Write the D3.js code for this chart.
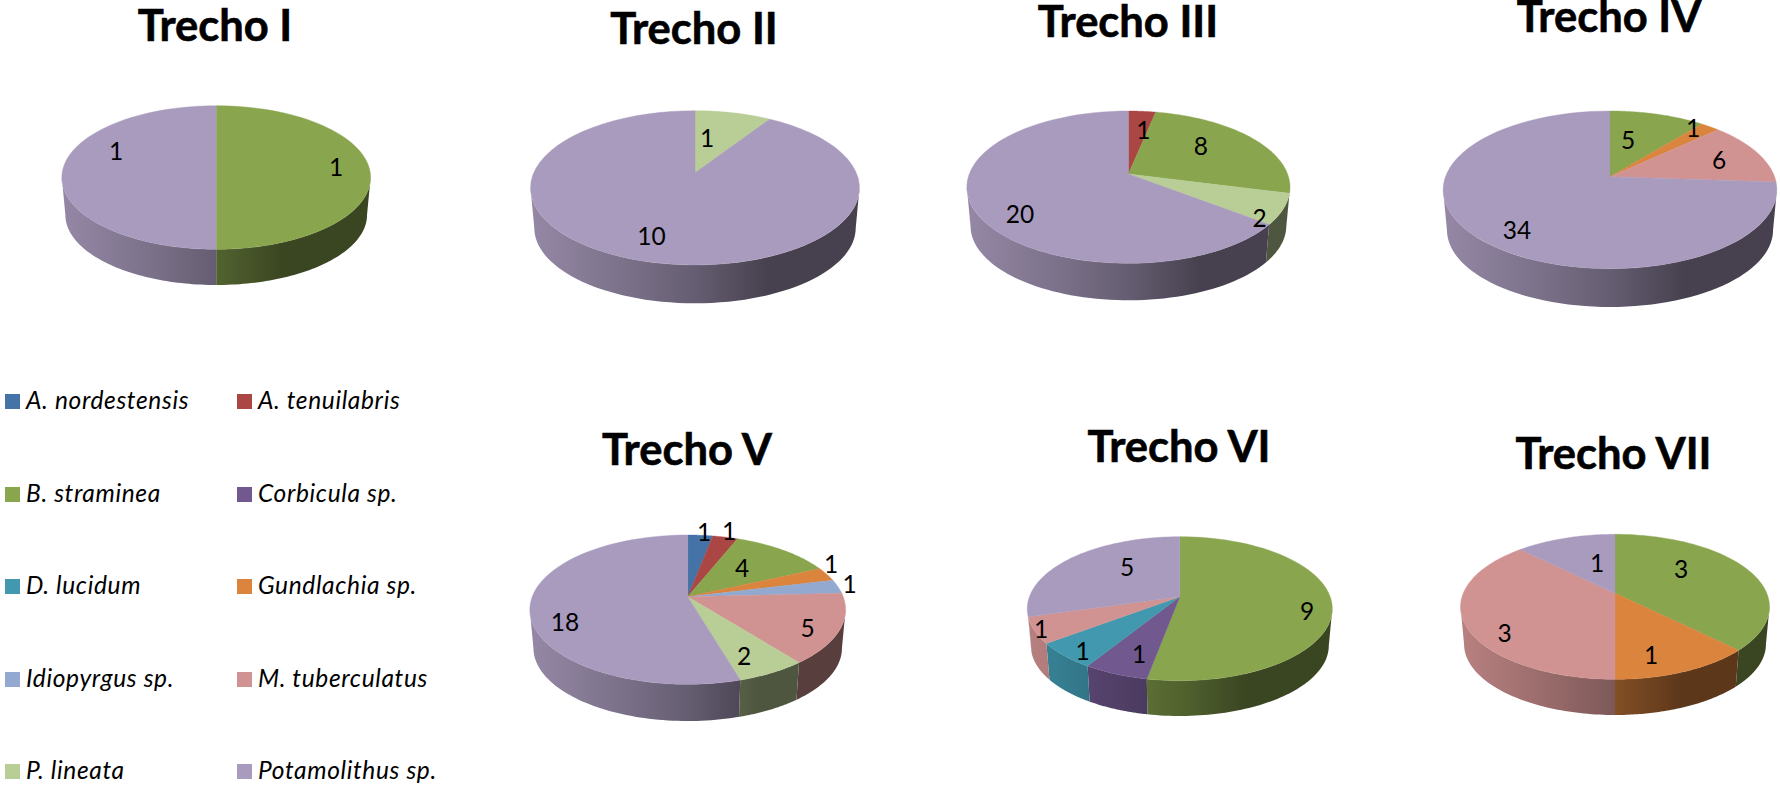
<!DOCTYPE html>
<html>
<head>
<meta charset="utf-8">
<script src="https://cdn.jsdelivr.net/npm/d3@7"></script>
<style>
  html, body { margin: 0; padding: 0; background: #fff; }
  svg { display: block; }
  text { font-family: Lato, "Open Sans", sans-serif; fill: #000; }
</style>
</head>
<body>
<svg id="chart" width="1780" height="786"></svg>
<script>
// Gastropod and bivalve counts per river stretch.
const species = ["A. nordestensis", "A. tenuilabris", "B. straminea", "Corbicula sp.", "D. lucidum",
                 "Gundlachia sp.", "Idiopyrgus sp.", "M. tuberculatus", "P. lineata", "Potamolithus sp."];
const palette = ["#4572a7", "#aa4643", "#89a54e", "#71588f", "#4198af",
                 "#db843d", "#93a9cf", "#d19392", "#b9cd96", "#a99bbd"];

const stretches = ["Trecho I", "Trecho II", "Trecho III", "Trecho IV", "Trecho V", "Trecho VI", "Trecho VII"];
const countsI   = [0, 0, 1, 0, 0, 0, 0, 0, 0, 1];
const countsII  = [0, 0, 0, 0, 0, 0, 0, 0, 1, 10];
const countsIII = [0, 1, 8, 0, 0, 0, 0, 0, 2, 20];
const countsIV  = [0, 0, 5, 0, 0, 1, 0, 6, 0, 34];
const countsV   = [1, 1, 4, 0, 0, 1, 1, 5, 2, 18];
const countsVI  = [0, 0, 9, 1, 1, 0, 0, 1, 0, 5];
const countsVII = [0, 0, 3, 0, 0, 1, 0, 3, 0, 1];
const counts = [countsI, countsII, countsIII, countsIV, countsV, countsVI, countsVII];

// Frame of each perspective disc: hub, horizontal half-width, top and front of the rim, wall height.
const discs = [
  {hx: 216.2, hy: 165.0, rx: 154.4, top: 105.7, front: 249.3, wall: 35.7, tx: 215,  ty: 40.7},
  {hx: 695.0, hy: 172.7, rx: 164.5, top: 110.7, front: 265.0, wall: 38.3, tx: 694,  ty: 44.3},
  {hx: 1128.4, hy: 174.0, rx: 161.6, top: 111.0, front: 263.3, wall: 37.0, tx: 1128, ty: 37.3},
  {hx: 1610.0, hy: 176.7, rx: 166.9, top: 111.0, front: 268.7, wall: 38.3, tx: 1609, ty: 31.7},
  {hx: 687.7, hy: 596.7, rx: 157.9, top: 535.0, front: 684.3, wall: 36.7, tx: 687,  ty: 465},
  {hx: 1179.8, hy: 596.7, rx: 152.5, top: 536.7, front: 680.7, wall: 35.3, tx: 1179, ty: 462.3},
  {hx: 1615.0, hy: 593.3, rx: 154.5, top: 534.3, front: 679.3, wall: 35.7, tx: 1613.5, ty: 469}
];

// Value label offsets from each disc's hub, listed in slice order.
const labelOffsets = [
  [[120, 1], [-100, -15]],
  [[12, -35], [-43.5, 63]],
  [[15, -45], [72.4, -29], [131.3, 43], [-108.4, 39]],
  [[18, -37], [83, -49], [109, -17], [-93, 53]],
  [[16.3, -65], [41.3, -66], [54.3, -29], [143.3, -33], [161.9, -13], [120, 31], [56.3, 59], [-122.7, 25]],
  [[127.2, 14], [-40.8, 57], [-97.2, 54], [-138.8, 32], [-52.8, -30]],
  [[66, -25], [36, 61], [-110.5, 39], [-18, -31]]
];

const legendRows = [394, 487, 579, 672, 764];
const legendColumns = [5, 237];
const swatchSize = 15;

const svg = d3.select("#chart");
const defs = svg.append("defs");

// Slices run clockwise from twelve o'clock, in legend order, skipping absent species.
const pieLayout = d3.pie().sort(null).value(d => d.count);
const rimPath = d3.line();

// Shade applied across the wall from left to right, a multiple of the slice colour.
const wallStops = [[0, 0.88], [0.3, 0.72], [0.5, 0.60], [0.72, 0.42], [1, 0.42]];

function projector(disc) {
  const up = disc.hy - disc.top, down = disc.front - disc.hy;
  const ratio = down / up;
  const k = (ratio - 1) / (ratio + 1);
  const s = up * (1 + k);
  const r = disc.rx * Math.sqrt(1 - k * k);
  const flat = theta => {
    const d = 1 + k * Math.cos(theta);
    return [r * Math.sin(theta) / d, -s * Math.cos(theta) / d];
  };
  const floorScale = 0.977;
  const floorHub = disc.front + disc.wall - floorScale * down;
  return {
    k,
    upper: theta => { const p = flat(theta); return [disc.hx + p[0], disc.hy + p[1]]; },
    lower: theta => { const p = flat(theta); return [disc.hx + floorScale * p[0], floorHub + floorScale * p[1]]; }
  };
}

const sweep = (a, b) => d3.range(0, 65).map(i => a + (b - a) * i / 64);

function wallGradient(id, disc, color) {
  const grad = defs.append("linearGradient").attr("id", id)
    .attr("gradientUnits", "userSpaceOnUse")
    .attr("x1", disc.hx - disc.rx).attr("x2", disc.hx + disc.rx)
    .attr("y1", 0).attr("y2", 0);
  const base = d3.rgb(color);
  wallStops.forEach(([t, f]) => {
    grad.append("stop").attr("offset", t)
      .attr("stop-color", d3.rgb(base.r * f, base.g * f, base.b * f).formatHex());
  });
  return `url(#${id})`;
}

discs.forEach((disc, i) => {
  const proj = projector(disc);
  const rows = counts[i]
    .map((count, c) => ({count, color: palette[c]}))
    .filter(d => d.count > 0);
  const arcs = pieLayout(rows);
  const g = svg.append("g").attr("class", "disc");

  // The wall is visible only between the two silhouette angles of the rim.
  const wallStart = Math.acos(-proj.k), wallEnd = 2 * Math.PI - wallStart;
  arcs.forEach((a, j) => {
    const from = Math.max(a.startAngle, wallStart), to = Math.min(a.endAngle, wallEnd);
    if (to <= from) return;
    const pts = sweep(from, to);
    const outline = pts.map(proj.upper).concat(pts.slice().reverse().map(proj.lower));
    g.append("path").attr("d", rimPath(outline) + "Z")
      .attr("fill", wallGradient(`wall-${i}-${j}`, disc, a.data.color));
  });

  // Top face of every slice.
  arcs.forEach(a => {
    const outline = [[disc.hx, disc.hy]].concat(sweep(a.startAngle, a.endAngle).map(proj.upper));
    g.append("path").attr("d", rimPath(outline) + "Z")
      .attr("fill", a.data.color)
      .attr("stroke", a.data.color).attr("stroke-width", 0.4);
  });

  arcs.forEach((a, j) => {
    const off = labelOffsets[i][j];
    g.append("text")
      .attr("x", disc.hx + off[0]).attr("y", disc.hy + off[1])
      .attr("text-anchor", "middle").attr("dominant-baseline", "central")
      .attr("font-size", 24.5)
      .text(a.data.count);
  });

  svg.append("text")
    .attr("x", disc.tx).attr("y", disc.ty)
    .attr("text-anchor", "middle")
    .attr("font-size", 43.5).attr("font-weight", 700)
    .attr("stroke", "#000").attr("stroke-width", 0.6)
    .text(stretches[i]);
});

// Two-column legend.
const legend = svg.append("g").attr("class", "legend");
const entries = legend.selectAll("g").data(species).join("g")
  .attr("transform", (d, i) => `translate(${legendColumns[i % 2]},${legendRows[Math.floor(i / 2)]})`);
entries.append("rect")
  .attr("width", swatchSize).attr("height", swatchSize)
  .attr("fill", (d, i) => palette[i]);
entries.append("text")
  .attr("x", 21).attr("y", swatchSize)
  .attr("font-size", 24.5).attr("font-style", "italic")
  .attr("letter-spacing", 0.65)
  .text(d => d);
</script>
</body>
</html>
